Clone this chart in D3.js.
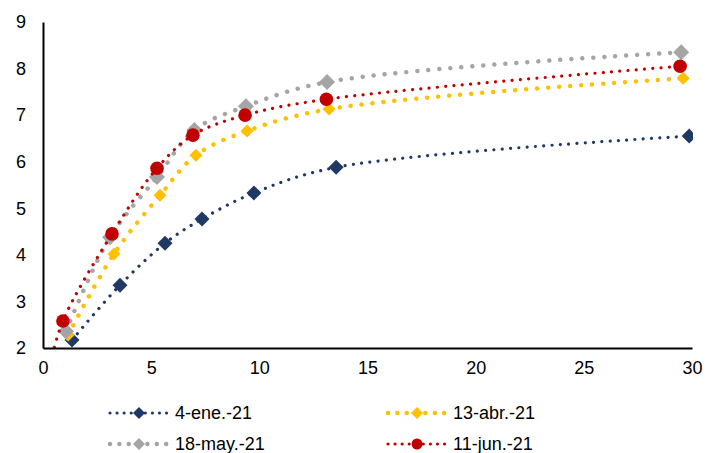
<!DOCTYPE html>
<html>
<head>
<meta charset="utf-8">
<script src="https://cdn.jsdelivr.net/npm/d3@7"></script>
<style>
  body { margin: 0; background: #fff; }
  text { font-family: "Liberation Sans", Arial, sans-serif; }
</style>
</head>
<body>
<script>
// values
var seriesNames = ['4-ene.-21', '13-abr.-21', '18-may.-21', '11-jun.-21'];
var eneX = [1.34, 3.56, 5.64, 7.35, 9.75, 13.55, 29.87];
var eneY = [2.17, 3.35, 4.25, 4.77, 5.33, 5.88, 6.55];
var abrX = [1.16, 3.28, 5.41, 7.07, 9.43, 13.22, 29.59];
var abrY = [2.28, 4.02, 5.28, 6.14, 6.66, 7.13, 7.79];
var mayX = [1.06, 3.1, 5.27, 7.0, 9.38, 13.13, 29.5];
var mayY = [2.36, 4.38, 5.67, 6.68, 7.19, 7.71, 8.35];
var junX = [0.25, 0.92, 3.19, 5.27, 6.93, 9.34, 13.1, 29.45];
var junY = [1.5, 2.58, 4.45, 5.86, 6.57, 7.0, 7.34, 8.05];
var xTicks = [0, 5, 10, 15, 20, 25, 30];
var yTicks = [2, 3, 4, 5, 6, 7, 8, 9];

var W = 707, H = 453;
var x = d3.scaleLinear().domain([0, 30]).range([43, 692]);
var y = d3.scaleLinear().domain([2, 9]).range([348, 22]);

function zip(xs, ys) { return xs.map(function(v, i) { return {x: v, y: ys[i]}; }); }

var series = [
  {name: seriesNames[0], pts: zip(eneX, eneY), color: '#1F3864', w: 3.2, gap: 8.3, shape: 'diamond', size: 7.5},
  {name: seriesNames[1], pts: zip(abrX, abrY), color: '#FFC000', w: 4.5, gap: 11, shape: 'diamond', size: 6.5},
  {name: seriesNames[2], pts: zip(mayX, mayY), color: '#A5A5A5', w: 4.5, gap: 11, shape: 'diamond', size: 8},
  {name: seriesNames[3], pts: zip(junX, junY), color: '#C00000', w: 3.2, gap: 8.3, shape: 'circle', size: 6.8}
];

var svg = d3.select('body').append('svg').attr('width', W).attr('height', H);

svg.append('clipPath').attr('id', 'plot')
  .append('rect').attr('x', 43).attr('y', 22).attr('width', 650).attr('height', 326);

function drawMarker(g, s, cx, cy) {
  if (s.shape == 'circle') {
    g.append('circle').attr('cx', cx).attr('cy', cy).attr('r', s.size).attr('fill', s.color);
  } else {
    var r = s.size;
    g.append('path')
      .attr('d', d3.line()([[cx, cy - r], [cx + r, cy], [cx, cy + r], [cx - r, cy]]) + 'Z')
      .attr('fill', s.color);
  }
}

var line = d3.line()
  .x(function(d) { return x(d.x); })
  .y(function(d) { return y(d.y); })
  .curve(d3.curveCatmullRom.alpha(0.5));

var plot = svg.append('g').attr('clip-path', 'url(#plot)');

series.forEach(function(s) {
  var g = plot.append('g');
  g.append('path')
    .attr('d', line(s.pts))
    .attr('fill', 'none')
    .attr('stroke', s.color)
    .attr('stroke-width', s.w)
    .attr('stroke-linecap', 'round')
    .attr('stroke-dasharray', '0.01 ' + s.gap);
  s.pts.filter(function(d) { return d.y >= 2; }).forEach(function(d) {
    drawMarker(g, s, x(d.x), y(d.y));
  });
});

// axes
var xAxis = svg.append('g').attr('transform', 'translate(0,348)')
  .call(d3.axisBottom(x).tickValues(xTicks).tickFormat(d3.format('d')).tickSize(0).tickPadding(13));
var yAxis = svg.append('g').attr('transform', 'translate(43,0)')
  .call(d3.axisLeft(y).tickValues(yTicks).tickFormat(d3.format('d')).tickSize(0).tickPadding(17));
[xAxis, yAxis].forEach(function(a) {
  a.select('.domain').attr('stroke', '#000').attr('stroke-width', 2);
  a.selectAll('text').attr('font-size', 18).attr('fill', '#000')
    .attr('font-family', '"Liberation Sans", Arial, sans-serif');
});

// legend
var legendPos = [[110, 413], [388, 413], [110, 444], [388, 444]];
series.forEach(function(s, i) {
  var p = legendPos[i];
  var lg = svg.append('g');
  lg.append('line')
    .attr('x1', p[0]).attr('x2', p[0] + 58).attr('y1', p[1]).attr('y2', p[1])
    .attr('stroke', s.color).attr('stroke-width', s.w)
    .attr('stroke-linecap', 'round')
    .attr('stroke-dasharray', '0.01 ' + (s.gap * 0.85));
  drawMarker(lg, {shape: s.shape, color: s.color, size: s.shape == 'circle' ? 5.5 : 6}, p[0] + 29, p[1]);
  lg.append('text').attr('x', p[0] + 65).attr('y', p[1]).attr('dy', '0.35em')
    .attr('font-size', 18).attr('fill', '#000').text(s.name);
});
</script>
</body>
</html>
